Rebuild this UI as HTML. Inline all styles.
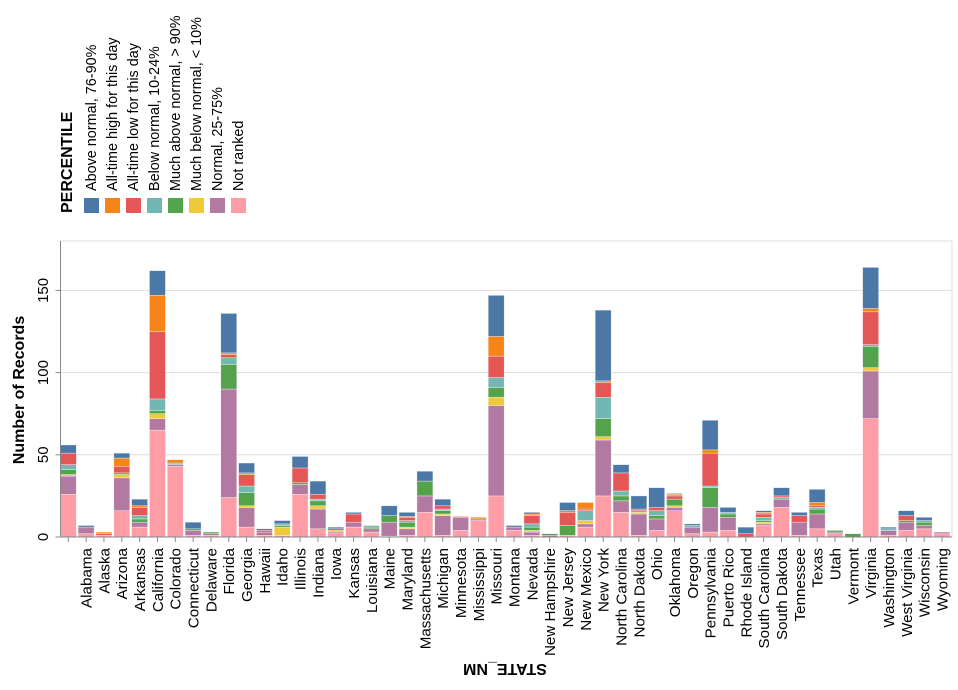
<!DOCTYPE html>
<html><head><meta charset="utf-8"><style>
html,body{margin:0;padding:0;background:#fff;}
svg{display:block;font-family:"Liberation Sans",Arial,sans-serif;}
</style></head><body>
<svg id="c" width="958" height="690" viewBox="0 0 958 690" xmlns="http://www.w3.org/2000/svg">
<g id="grid"></g>
<g id="bars"></g>
<g id="axes"></g>
<g font-size="15" fill="#000" text-anchor="middle">
<text transform="translate(48,537) rotate(-90)">0</text>
<text transform="translate(48,454.8) rotate(-90)">50</text>
<text transform="translate(48,372.6) rotate(-90)">100</text>
<text transform="translate(48,290.4) rotate(-90)">150</text>
</g>
<text transform="translate(24,390) rotate(-90)" font-size="16" font-weight="bold" text-anchor="middle">Number of Records</text>
<text transform="translate(505,664) rotate(180)" font-size="16" font-weight="bold" text-anchor="middle">STATE_NM</text>
<text transform="translate(72,213) rotate(-90)" font-size="16" font-weight="bold">PERCENTILE</text>
<g font-size="14.4" fill="#000">
<rect x="84" y="198" width="15" height="15" fill="#4c78a8"/>
<rect x="105" y="198" width="15" height="15" fill="#f58518"/>
<rect x="126" y="198" width="15" height="15" fill="#e45756"/>
<rect x="147" y="198" width="15" height="15" fill="#72b7b2"/>
<rect x="168" y="198" width="15" height="15" fill="#54a24b"/>
<rect x="189" y="198" width="15" height="15" fill="#eeca3b"/>
<rect x="210" y="198" width="15" height="15" fill="#b279a2"/>
<rect x="231" y="198" width="15" height="15" fill="#ff9da6"/>
<text transform="translate(96,191) rotate(-90)">Above normal, 76-90%</text>
<text transform="translate(117,191) rotate(-90)">All-time high for this day</text>
<text transform="translate(138,191) rotate(-90)">All-time low for this day</text>
<text transform="translate(159,191) rotate(-90)">Below normal, 10-24%</text>
<text transform="translate(180,191) rotate(-90)">Much above normal, &gt; 90%</text>
<text transform="translate(201,191) rotate(-90)">Much below normal, &lt; 10%</text>
<text transform="translate(222,191) rotate(-90)">Normal, 25-75%</text>
<text transform="translate(243,191) rotate(-90)">Not ranked</text>
</g>
<g font-size="15.2" fill="#000" text-anchor="end">
<text transform="translate(91.5,548) rotate(-90)">Alabama</text>
<text transform="translate(109.3,548) rotate(-90)">Alaska</text>
<text transform="translate(127.2,548) rotate(-90)">Arizona</text>
<text transform="translate(145,548) rotate(-90)">Arkansas</text>
<text transform="translate(162.8,548) rotate(-90)">California</text>
<text transform="translate(180.7,548) rotate(-90)">Colorado</text>
<text transform="translate(198.5,548) rotate(-90)">Connecticut</text>
<text transform="translate(216.3,548) rotate(-90)">Delaware</text>
<text transform="translate(234.2,548) rotate(-90)">Florida</text>
<text transform="translate(252,548) rotate(-90)">Georgia</text>
<text transform="translate(269.8,548) rotate(-90)">Hawaii</text>
<text transform="translate(287.7,548) rotate(-90)">Idaho</text>
<text transform="translate(305.5,548) rotate(-90)">Illinois</text>
<text transform="translate(323.3,548) rotate(-90)">Indiana</text>
<text transform="translate(341.2,548) rotate(-90)">Iowa</text>
<text transform="translate(359,548) rotate(-90)">Kansas</text>
<text transform="translate(376.8,548) rotate(-90)">Louisiana</text>
<text transform="translate(394.7,548) rotate(-90)">Maine</text>
<text transform="translate(412.5,548) rotate(-90)">Maryland</text>
<text transform="translate(430.3,548) rotate(-90)">Massachusetts</text>
<text transform="translate(448.2,548) rotate(-90)">Michigan</text>
<text transform="translate(466,548) rotate(-90)">Minnesota</text>
<text transform="translate(483.8,548) rotate(-90)">Mississippi</text>
<text transform="translate(501.7,548) rotate(-90)">Missouri</text>
<text transform="translate(519.5,548) rotate(-90)">Montana</text>
<text transform="translate(537.3,548) rotate(-90)">Nevada</text>
<text transform="translate(555.2,548) rotate(-90)">New Hampshire</text>
<text transform="translate(573,548) rotate(-90)">New Jersey</text>
<text transform="translate(590.8,548) rotate(-90)">New Mexico</text>
<text transform="translate(608.7,548) rotate(-90)">New York</text>
<text transform="translate(626.5,548) rotate(-90)">North Carolina</text>
<text transform="translate(644.3,548) rotate(-90)">North Dakota</text>
<text transform="translate(662.2,548) rotate(-90)">Ohio</text>
<text transform="translate(680,548) rotate(-90)">Oklahoma</text>
<text transform="translate(697.8,548) rotate(-90)">Oregon</text>
<text transform="translate(715.7,548) rotate(-90)">Pennsylvania</text>
<text transform="translate(733.5,548) rotate(-90)">Puerto Rico</text>
<text transform="translate(751.3,548) rotate(-90)">Rhode Island</text>
<text transform="translate(769.2,548) rotate(-90)">South Carolina</text>
<text transform="translate(787,548) rotate(-90)">South Dakota</text>
<text transform="translate(804.8,548) rotate(-90)">Tennessee</text>
<text transform="translate(822.7,548) rotate(-90)">Texas</text>
<text transform="translate(840.5,548) rotate(-90)">Utah</text>
<text transform="translate(858.3,548) rotate(-90)">Vermont</text>
<text transform="translate(876.2,548) rotate(-90)">Virginia</text>
<text transform="translate(894,548) rotate(-90)">Washington</text>
<text transform="translate(911.8,548) rotate(-90)">West Virginia</text>
<text transform="translate(929.7,548) rotate(-90)">Wisconsin</text>
<text transform="translate(947.5,548) rotate(-90)">Wyoming</text>
</g>
</svg>
<script>
(function(){
var NS="http://www.w3.org/2000/svg";
function el(p,t,a){var e=document.createElementNS(NS,t);for(var k in a)e.setAttribute(k,a[k]);p.appendChild(e);return e;}
var Y0=537,K=1.644,X0=60.5,TOP=241,RIGHT=952,C0=68.3,ST=17.83,BW=16;
var g=document.getElementById('grid');
el(g,'rect',{x:X0,y:TOP,width:RIGHT-X0,height:Y0-TOP,fill:'none',stroke:'#ddd','stroke-width':1});
[50,100,150].forEach(function(v){var y=Y0-v*K;el(g,'line',{x1:X0,x2:RIGHT,y1:y,y2:y,stroke:'#ddd','stroke-width':1});});
var cols=['#ff9da6','#b279a2','#eeca3b','#54a24b','#72b7b2','#e45756','#f58518','#4c78a8'];
var D=[
[26,37,38,41,44,51,51,56],[2,6,6,6,6,6,6,7],[1,1,1,1,1,2,3,3],[16,36,38,39,39,43,48,51],
[6,9,9,11,13,18,19,23],[65,72,75,77,84,125,147,162],[43,44,44,44,45,45,47,47],[1,4,4,5,5,5,5,9],
[1,2,2,3,3,3,3,3],[24,90,90,105,109,111,112,136],[6,18,19,27,31,38,39,45],[1,3,3,3,3,4,4,5],
[1,1,6,7,8,8,8,10],[26,32,32,33,33,42,42,49],[5,17,19,22,23,26,26,34],[2,3,4,4,4,5,5,6],
[6,9,9,9,9,14,14,15],[3,5,5,6,7,7,7,7],[0.5,9,9,13,13,13,13,19],[1,5,6,9,10,12,12.5,15],
[15,25,25,34,34,34,34,40],[1,13,14,16,17,19,19,23],[4,12,12,12,12,12.5,12.5,12.5],[10,11,11,11,11,11,12,12],
[25,80,85,91,97,110,122,147],[4,6,6,6,6,6,6,7],[1,3,4,6,8,13,14,15],[0,1,1,2,2,2,2,2],
[1,1,1,7,7,15,16,21],[6,8,10,10,16,17,21,21],[25,59,61,72,85,94,95,138],[15,22,22,25,28,39,39,44],
[1,14,15,15,16,17,17,25],[4,11,11,13,16,18,18,30],[16,18,19,23,23,25,26,26.5],[2,6,6,6,7,7,7,8],
[3,18,18,30,31,51,53,71],[4,12,12,14,15,15,15,18],[0,0,0,0,0,2,2,6],[7,8,9,10,12,14,15,16],
[18,23,23,23,24,25,25,30],[1,9,9,9,9,13,13,15],[5,14,14,17,18,19,21,29],[2,3,3,4,4,4,4,4],
[0,0,0,2,2,2,2,2],[72,101,103,116,117,137,139,164],[1,4,4,4,5,5,5,6],[4,9,9,10,10,13,13,16],
[5,7,7,9,10,10,10,12],[2,3,3,3,3,3,3,3]];
var b=document.getElementById('bars');
D.forEach(function(r,i){var cx=C0+i*ST,prev=0;
 r.forEach(function(v,j){if(v>prev){var y1=Y0-v*K,y0=Y0-prev*K;
  el(b,'rect',{x:cx-BW/2,y:y1,width:BW,height:y0-y1,fill:cols[j],stroke:'#fff','stroke-opacity':0.6,'stroke-width':0.6});}
  prev=Math.max(prev,v);});});
var a=document.getElementById('axes');
el(a,'line',{x1:X0,x2:X0,y1:TOP,y2:Y0,stroke:'#888','stroke-width':1});
el(a,'line',{x1:X0,x2:RIGHT,y1:Y0,y2:Y0,stroke:'#888','stroke-width':1});
[0,50,100,150].forEach(function(v){var y=Y0-v*K;el(a,'line',{x1:X0-5,x2:X0,y1:y,y2:y,stroke:'#888'});});
for(var i=0;i<50;i++){var x=C0+i*ST;el(a,'line',{x1:x,x2:x,y1:Y0,y2:Y0+5,stroke:'#888'});}
})();
</script>
</body></html>
